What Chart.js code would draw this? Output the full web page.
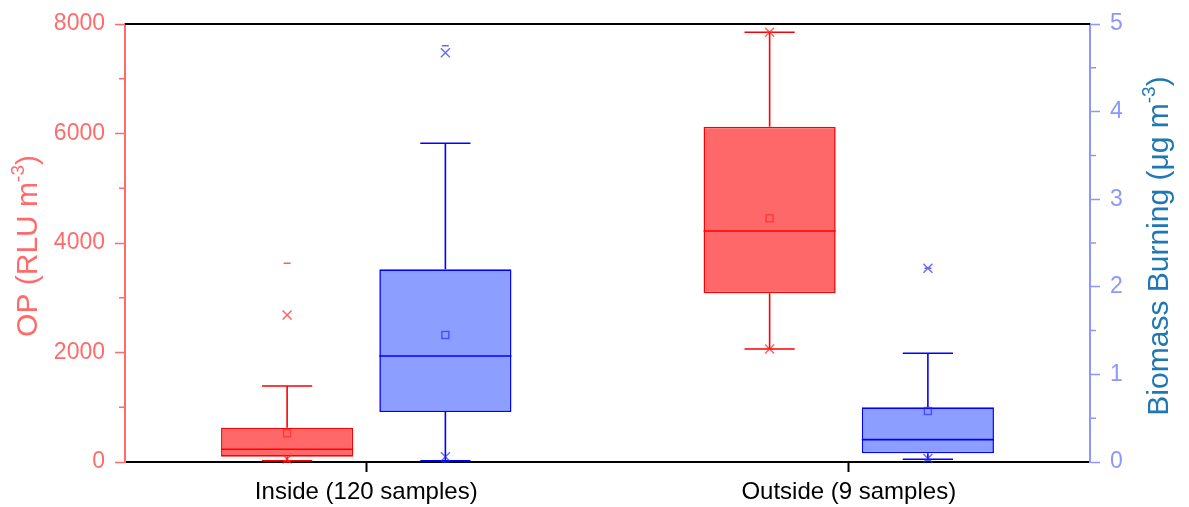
<!DOCTYPE html>
<html>
<head>
<meta charset="utf-8">
<script src="https://cdn.jsdelivr.net/npm/chart.js@4/dist/chart.umd.min.js"></script>
<style>
  html, body { margin: 0; padding: 0; background: #fff; }
</style>
</head>
<body>
<canvas id="boxChart" width="1189" height="507"></canvas>
<script>
// categories on the x axis
const categories = ['Inside (120 samples)', 'Outside (9 samples)'];

// OP (RLU m-3), left axis
const opQ1 = [97, 3081];
const opQ3 = [626, 6124];
const opMedian = [232, 4219];
const opMean = [524, 4451];
const opWhiskerLow = [24, 2064];
const opWhiskerHigh = [1388, 7848];
const opP1 = [55, 2064];
const opP99 = [2685, 7848];
const opMin = [0, 2064];
const opMax = [3629, 7848];

// Biomass Burning (ug m-3), right axis
const bbQ1 = [0.571, 0.099];
const bbQ3 = [2.2, 0.624];
const bbMedian = [1.21, 0.255];
const bbMean = [1.45, 0.582];
const bbWhiskerLow = [0.015, 0.031];
const bbWhiskerHigh = [3.638, 1.241];
const bbP1 = [0.06, 0.04];
const bbP99 = [4.672, 2.211];
const bbMin = [0, 0.02];
const bbMax = [4.752, 2.211];

// axis ticks
const opTicks = [0, 2000, 4000, 6000, 8000];
const opMinorTicks = [1000, 3000, 5000, 7000];
const bbTicks = [0, 1, 2, 3, 4, 5];
const bbMinorTicks = [0.5, 1.5, 2.5, 3.5, 4.5];

const RED = '#ff0000';
const BLUE = '#0000ff';
const OP_AXIS = '#ff6b6b';
const BB_AXIS = '#8c96ff';
const BB_TITLE = '#1f77b4';

Chart.defaults.font.family = '"Liberation Sans", Arial, sans-serif';

const opStats = { q1: opQ1, q3: opQ3, med: opMedian, mean: opMean, lo: opWhiskerLow, hi: opWhiskerHigh, p1: opP1, p99: opP99, min: opMin, max: opMax };
const bbStats = { q1: bbQ1, q3: bbQ3, med: bbMedian, mean: bbMean, lo: bbWhiskerLow, hi: bbWhiskerHigh, p1: bbP1, p99: bbP99, min: bbMin, max: bbMax };

// whiskers, medians, means and percentile markers on top of the box bars
const boxExtras = {
  id: 'boxExtras',
  afterDatasetsDraw(chart) {
    const ctx = chart.ctx;
    const groups = [
      { meta: chart.getDatasetMeta(0), scale: chart.scales.y, s: opStats, line: RED, mark: 'rgba(255,40,40,0.75)' },
      { meta: chart.getDatasetMeta(1), scale: chart.scales.y2, s: bbStats, line: BLUE, mark: 'rgba(40,40,255,0.7)' }
    ];
    ctx.save();
    ctx.lineWidth = 1.6;
    groups.forEach(g => {
      g.meta.data.forEach((el, i) => {
        const x = el.x, half = el.width / 2, cap = el.width * 0.19;
        const py = v => g.scale.getPixelForValue(v);
        ctx.strokeStyle = g.line;
        ctx.beginPath();
        // whiskers
        ctx.moveTo(x, py(g.s.q3[i])); ctx.lineTo(x, py(g.s.hi[i]));
        ctx.moveTo(x - cap, py(g.s.hi[i])); ctx.lineTo(x + cap, py(g.s.hi[i]));
        ctx.moveTo(x, py(g.s.q1[i])); ctx.lineTo(x, py(g.s.lo[i]));
        ctx.moveTo(x - cap, py(g.s.lo[i])); ctx.lineTo(x + cap, py(g.s.lo[i]));
        // median
        ctx.moveTo(x - half, py(g.s.med[i])); ctx.lineTo(x + half, py(g.s.med[i]));
        ctx.stroke();

        ctx.strokeStyle = g.mark;
        ctx.lineWidth = 1.4;
        // mean square
        const ym = py(g.s.mean[i]);
        ctx.strokeRect(x - 3.5, ym - 3.5, 7, 7);
        // 1% / 99% crosses
        ctx.beginPath();
        [g.s.p1[i], g.s.p99[i]].forEach(v => {
          const y = py(v);
          ctx.moveTo(x - 4.5, y - 4.5); ctx.lineTo(x + 4.5, y + 4.5);
          ctx.moveTo(x + 4.5, y - 4.5); ctx.lineTo(x - 4.5, y + 4.5);
        });
        // min / max dashes
        [g.s.min[i], g.s.max[i]].forEach(v => {
          const y = py(v);
          ctx.moveTo(x - 3.5, y); ctx.lineTo(x + 3.5, y);
        });
        ctx.stroke();
        ctx.lineWidth = 1.6;
      });
    });
    ctx.restore();
  }
};

function drawRotatedTitle(ctx, cx, cy, parts, color) {
  ctx.save();
  ctx.translate(cx, cy);
  ctx.rotate(-Math.PI / 2);
  ctx.fillStyle = color;
  ctx.textBaseline = 'middle';
  ctx.textAlign = 'left';
  let total = 0;
  parts.forEach(p => { ctx.font = p.font; p.w = ctx.measureText(p.text).width; total += p.w; });
  let x0 = -total / 2;
  parts.forEach(p => {
    ctx.font = p.font;
    ctx.fillText(p.text, x0, p.dy || 0);
    x0 += p.w;
  });
  ctx.restore();
}

// frame, minor ticks and axis titles
const frameExtras = {
  id: 'frameExtras',
  afterDraw(chart) {
    const ctx = chart.ctx;
    const area = chart.chartArea;
    const y = chart.scales.y, y2 = chart.scales.y2;
    ctx.save();
    ctx.strokeStyle = '#000';
    ctx.lineWidth = 2;
    ctx.beginPath();
    ctx.moveTo(area.left, area.top); ctx.lineTo(area.right, area.top);
    ctx.stroke();

    ctx.lineWidth = 1.5;
    ctx.strokeStyle = OP_AXIS;
    ctx.beginPath();
    opMinorTicks.forEach(v => {
      const p = y.getPixelForValue(v);
      ctx.moveTo(area.left - 6, p); ctx.lineTo(area.left, p);
    });
    ctx.stroke();
    ctx.strokeStyle = BB_AXIS;
    ctx.beginPath();
    bbMinorTicks.forEach(v => {
      const p = y2.getPixelForValue(v);
      ctx.moveTo(area.right, p); ctx.lineTo(area.right + 6, p);
    });
    ctx.stroke();
    ctx.restore();

    const big = '30px "Liberation Sans", Arial, sans-serif';
    const small = '19px "Liberation Sans", Arial, sans-serif';
    const cy = (area.top + area.bottom) / 2 + 3;
    drawRotatedTitle(ctx, 29, cy, [
      { text: 'OP (RLU m', font: big },
      { text: '-3', font: small, dy: -10 },
      { text: ')', font: big }
    ], OP_AXIS);
    drawRotatedTitle(ctx, 1160, cy, [
      { text: 'Biomass Burning (\u03bcg m', font: big },
      { text: '-3', font: small, dy: -10 },
      { text: ')', font: big }
    ], BB_TITLE);
  }
};

new Chart(document.getElementById('boxChart'), {
  type: 'bar',
  data: {
    labels: categories,
    datasets: [
      {
        label: 'OP',
        data: opQ1.map((v, i) => [v, opQ3[i]]),
        yAxisID: 'y',
        backgroundColor: '#ff6868',
        borderColor: RED,
        borderWidth: 1.6,
        borderSkipped: false,
        categoryPercentage: 0.656,
        barPercentage: 0.835
      },
      {
        label: 'Biomass Burning',
        data: bbQ1.map((v, i) => [v, bbQ3[i]]),
        yAxisID: 'y2',
        backgroundColor: '#8c9eff',
        borderColor: BLUE,
        borderWidth: 1.6,
        borderSkipped: false,
        categoryPercentage: 0.656,
        barPercentage: 0.835
      }
    ]
  },
  options: {
    responsive: false,
    animation: false,
    events: [],
    layout: { padding: { top: 24 } },
    plugins: { legend: { display: false }, tooltip: { enabled: false } },
    scales: {
      x: {
        stacked: false,
        offset: true,
        grid: { offset: false, drawOnChartArea: false, tickLength: 10, tickColor: '#000', tickWidth: 2 },
        border: { color: '#000', width: 2 },
        ticks: { color: '#000', font: { size: 24 }, padding: 6, maxRotation: 0 },
        afterFit(scale) { scale.height = 45; }
      },
      y: {
        position: 'left',
        min: 0,
        max: 8000,
        afterBuildTicks(scale) { scale.ticks = opTicks.map(v => ({ value: v })); },
        grid: { drawOnChartArea: false, tickLength: 10, tickColor: OP_AXIS, tickWidth: 1.5 },
        border: { color: OP_AXIS, width: 2 },
        ticks: { color: OP_AXIS, font: { size: 23 }, padding: 10, callback: v => String(v) },
        afterFit(scale) { scale.width = 125; }
      },
      y2: {
        position: 'right',
        min: 0,
        max: 5,
        afterBuildTicks(scale) { scale.ticks = bbTicks.map(v => ({ value: v })); },
        grid: { drawOnChartArea: false, tickLength: 10, tickColor: BB_AXIS, tickWidth: 1.5 },
        border: { color: BB_AXIS, width: 2 },
        ticks: { color: BB_AXIS, font: { size: 23 }, padding: 10, callback: v => String(v) },
        afterFit(scale) { scale.width = 99; }
      }
    }
  },
  plugins: [boxExtras, frameExtras]
});
</script>
</body>
</html>
